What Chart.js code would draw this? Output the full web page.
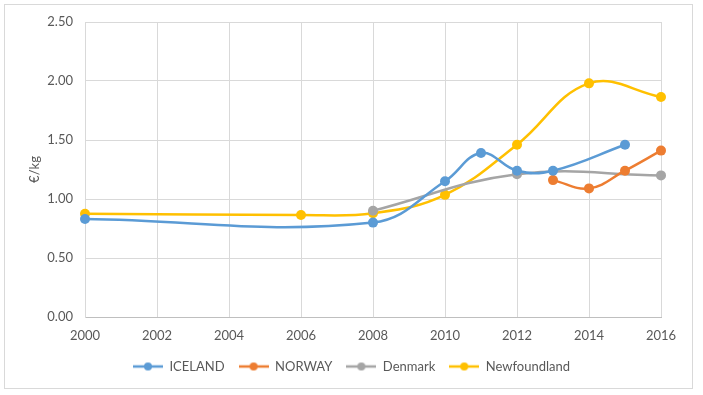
<!DOCTYPE html>
<html>
<head>
<meta charset="utf-8">
<script src="https://cdn.jsdelivr.net/npm/chart.js@4"></script>
<style>
    body { margin: 0; background: #fff; }
    #wrap { position: relative; width: 703px; height: 395px; }
    #frame { position: absolute; left: 4px; top: 4px; width: 687px; height: 383px; border: 1px solid #d9d9d9; }
    canvas { position: absolute; left: 0; top: 0; }
</style>
</head>
<body>
<div id="wrap">
    <div id="frame"></div>
    <canvas id="chart" width="703" height="395"></canvas>
</div>
<script>
// Data (€/kg by year)
const icelandYears = [2000, 2008, 2010, 2011, 2012, 2013, 2015];
const icelandPrices = [0.83, 0.80, 1.15, 1.39, 1.24, 1.24, 1.46];

const norwayYears = [2013, 2014, 2015, 2016];
const norwayPrices = [1.16, 1.09, 1.24, 1.41];

const denmarkYears = [2008, 2012, 2016];
const denmarkPrices = [0.90, 1.21, 1.20];

const newfoundlandYears = [2000, 2006, 2008, 2010, 2012, 2014, 2016];
const newfoundlandPrices = [0.875, 0.865, 0.88, 1.035, 1.46, 1.98, 1.865];

const yTicks = [0, 0.5, 1, 1.5, 2, 2.5];

const textColor = '#595959';
const gridColor = '#d9d9d9';
const fontFamily = 'Lato, "Liberation Sans", sans-serif';

function toPoints(xs, ys) {
    return xs.map((x, i) => ({ x: x, y: ys[i] }));
}

// Legend symbol: line with a dot on it
function legendIcon(color) {
    const c = document.createElement('canvas');
    c.width = 30;
    c.height = 10;
    const g = c.getContext('2d');
    g.strokeStyle = color;
    g.lineWidth = 2.5;
    g.beginPath();
    g.moveTo(0, 5);
    g.lineTo(30, 5);
    g.stroke();
    g.fillStyle = color;
    g.beginPath();
    g.arc(15, 5, 4, 0, Math.PI * 2);
    g.fill();
    return c;
}

function makeSeries(label, xs, ys, color) {
    return {
        label: label,
        data: toPoints(xs, ys),
        borderColor: color,
        backgroundColor: color,
        borderWidth: 2.5,
        pointRadius: 5,
        pointHoverRadius: 5,
        pointBorderWidth: 0,
        showLine: true,
        tension: 0.4,
        clip: false,
        legendIcon: legendIcon(color)
    };
}

// Centre the legend on the whole canvas, not on the padded area
const centerLegend = {
    id: 'centerLegend',
    beforeDraw(chart) {
        const lg = chart.legend;
        lg.left = 0;
        lg.right = chart.width;
        lg.width = chart.width;
    }
};

const ctx = document.getElementById('chart').getContext('2d');

new Chart(ctx, {
    type: 'scatter',
    data: {
        datasets: [
            makeSeries('ICELAND', icelandYears, icelandPrices, '#5b9bd5'),
            makeSeries('NORWAY', norwayYears, norwayPrices, '#ed7d31'),
            makeSeries('Denmark', denmarkYears, denmarkPrices, '#a5a5a5'),
            makeSeries('Newfoundland', newfoundlandYears, newfoundlandPrices, '#ffc000')
        ]
    },
    plugins: [centerLegend],
    options: {
        responsive: false,
        animation: false,
        layout: { padding: { left: 10, right: 42, top: 22, bottom: 12 } },
        plugins: {
            tooltip: { enabled: false },
            legend: {
                position: 'bottom',
                labels: {
                    color: textColor,
                    font: { family: fontFamily, size: 13 },
                    usePointStyle: true,
                    pointStyleWidth: 30,
                    padding: 14,
                    generateLabels: chart => chart.data.datasets.map((ds, i) => ({
                        text: ds.label,
                        fontColor: textColor,
                        pointStyle: ds.legendIcon,
                        datasetIndex: i,
                        hidden: false,
                        lineWidth: 0
                    }))
                }
            }
        },
        scales: {
            x: {
                type: 'linear',
                min: 2000,
                max: 2016,
                ticks: {
                    stepSize: 2,
                    color: textColor,
                    font: { family: fontFamily, size: 13 },
                    padding: 11,
                    callback: v => String(v)
                },
                grid: { color: gridColor, drawTicks: false },
                border: { color: '#bfbfbf' },
                afterFit: scale => { scale.height = 29; }
            },
            y: {
                min: 0,
                max: 2.5,
                afterBuildTicks: scale => {
                    scale.ticks = yTicks.map(v => ({ value: v }));
                },
                ticks: {
                    color: textColor,
                    font: { family: fontFamily, size: 13 },
                    padding: 12,
                    callback: v => v.toFixed(2)
                },
                grid: { color: gridColor, drawTicks: false },
                border: { color: gridColor },
                title: {
                    display: true,
                    text: '€/kg',
                    color: textColor,
                    font: { family: fontFamily, size: 13 },
                    padding: { top: 17, bottom: 0 }
                },
                afterFit: scale => { scale.width = 75; }
            }
        }
    }
});
</script>
</body>
</html>
